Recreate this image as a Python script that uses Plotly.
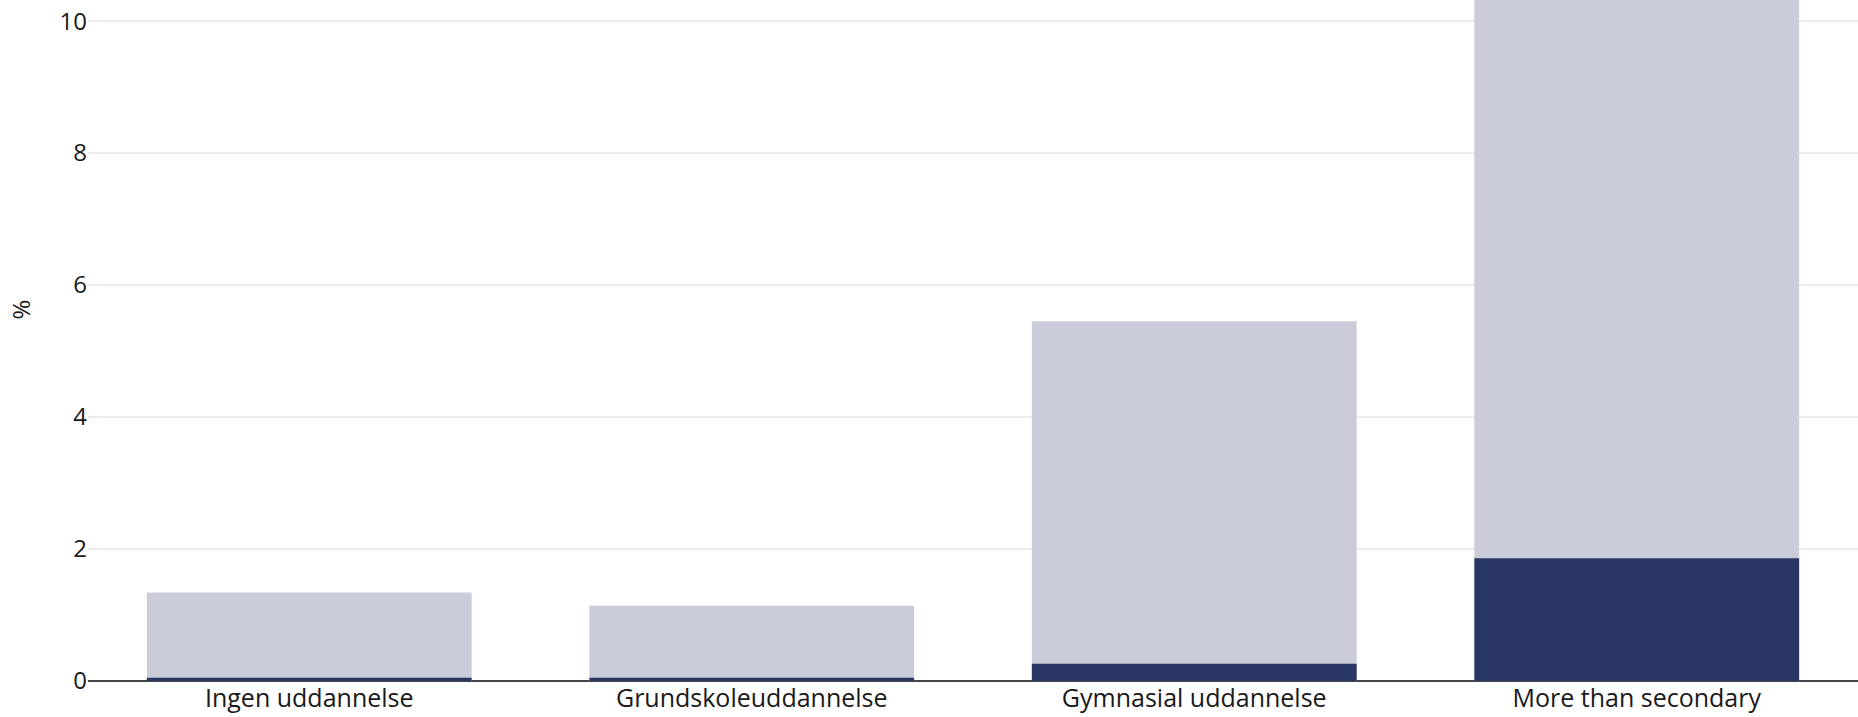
import plotly.graph_objects as go

categories = ["Ingen uddannelse", "Grundskoleuddannelse", "Gymnasial uddannelse", "More than secondary"]
total_values = [1.34, 1.14, 5.45, 11.5]
subset_values = [0.05, 0.05, 0.26, 1.86]
y_ticks = [0, 2, 4, 6, 8, 10]

FONT = "Open Sans"
LIGHT = "#CACCD9"
DARK = "#2A3663"

fig = go.Figure()
fig.add_trace(go.Bar(x=categories, y=total_values, marker=dict(color=LIGHT, line=dict(width=0)),
                     showlegend=False, hoverinfo="x+y"))
fig.add_trace(go.Bar(x=categories, y=subset_values, marker=dict(color=DARK, line=dict(width=0)),
                     showlegend=False, hoverinfo="x+y"))

fig.update_layout(
    width=1858, height=717,
    margin=dict(l=88, r=0, t=0, b=36, autoexpand=False),
    barmode="overlay", bargap=0.266,
    plot_bgcolor="white", paper_bgcolor="white",
    font=dict(family=FONT, size=23, color="#1a1a1a"),
    xaxis=dict(showgrid=False, ticks="", showline=False, zeroline=False,
               tickfont=dict(size=25, family=FONT, color="#1a1a1a")),
    yaxis=dict(range=[0, 10.32], tickvals=y_ticks, showgrid=True, gridcolor="#EBEBEB", gridwidth=1.7,
               zeroline=True, zerolinecolor="#444444", zerolinewidth=2, ticks="", showline=False,
               tickfont=dict(size=24, family=FONT, color="#1a1a1a")),
    annotations=[dict(text="%", xref="paper", yref="paper", x=-0.038, y=0.545, showarrow=False,
                      textangle=-90, font=dict(size=24, family=FONT, color="#1a1a1a"),
                      xanchor="center", yanchor="middle")],
)

fig.write_html("out.html", config={"displayModeBar": False},
               post_script="document.body.style.margin='0';")
